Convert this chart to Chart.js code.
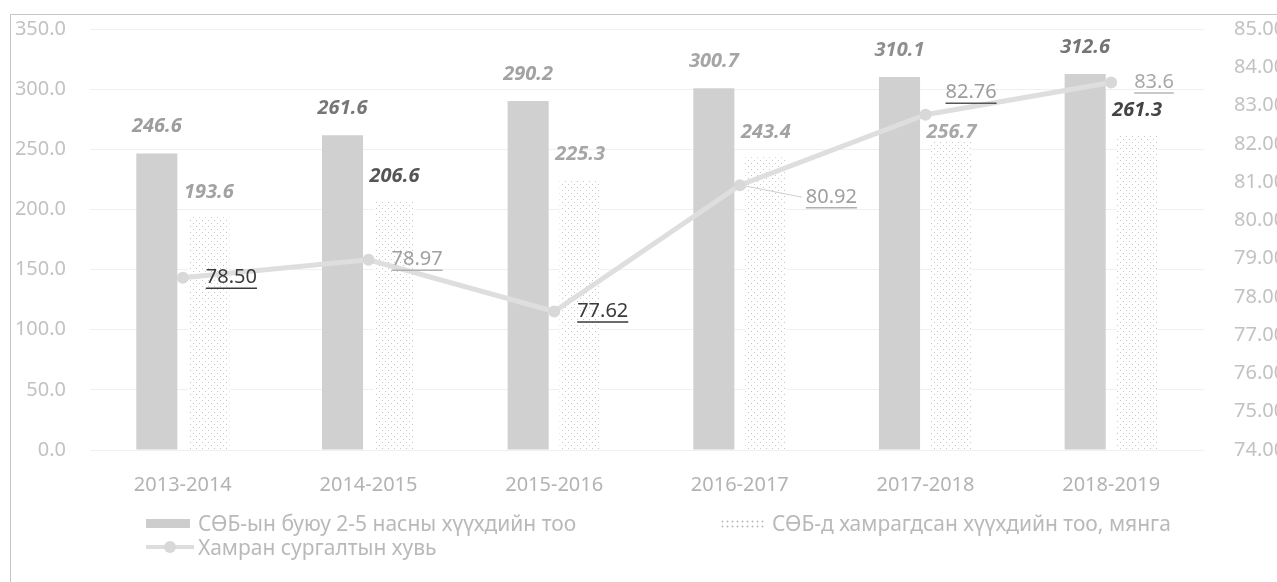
<!DOCTYPE html>
<html>
<head>
<meta charset="utf-8">
<script src="https://cdn.jsdelivr.net/npm/chart.js@4.4.1/dist/chart.umd.min.js"></script>
<style>
html,body{margin:0;padding:0;background:#fff;}
#wrap{position:relative;width:1277px;height:582px;overflow:hidden;background:#fff;}
#c{position:absolute;left:0;top:0;}
#frame{position:absolute;left:10px;top:14px;width:1300px;height:600px;border-top:1px solid #c6c6c6;border-left:1px solid #c6c6c6;pointer-events:none;}
.leg{position:absolute;font-family:"Noto Sans",sans-serif;font-size:21px;line-height:24px;color:#b9b9b9;white-space:nowrap;}
.sw{position:absolute;}
</style>
</head>
<body>
<div id="wrap">
  <canvas id="c" width="1277" height="582"></canvas>
  <div id="frame"></div>
  <div id="legend"></div>
</div>
<script>
// ---- data ----
const categories = ['2013-2014', '2014-2015', '2015-2016', '2016-2017', '2017-2018', '2018-2019'];
const childrenAged2to5 = [246.6, 261.6, 290.2, 300.7, 310.1, 312.6];
const childrenEnrolled = [193.6, 206.6, 225.3, 243.4, 256.7, 261.3];
const enrollmentRate = [78.50, 78.97, 77.62, 80.92, 82.76, 83.6];
const enrollmentRateText = ['78.50', '78.97', '77.62', '80.92', '82.76', '83.6'];
const seriesNames = [
  'СӨБ-ын буюу 2-5 насны хүүхдийн тоо',
  'СӨБ-д хамрагдсан хүүхдийн тоо, мянга',
  'Хамран сургалтын хувь'
];
const leftAxisRange = [0, 350, 50];
const rightAxisRange = [74, 85, 1];

// ---- styles ----
const canvas = document.getElementById('c');
const mainCtx = canvas.getContext('2d');
function dotPattern() {
  const p = document.createElement('canvas');
  p.width = 6; p.height = 6;
  const g = p.getContext('2d');
  g.fillStyle = '#ffffff'; g.fillRect(0, 0, 6, 6);
  g.fillStyle = '#c6c6c6';
  g.fillRect(1, 1, 1, 1); g.fillRect(4, 4, 1, 1);
  return mainCtx.createPattern(p, 'repeat');
}
const dots = dotPattern();

const labelSpec = [
  { dataset: 0, mode: 'above', gap: 27, font: 'italic bold 20px "Noto Sans"',
    text: (v) => v.toFixed(1),
    colors: ['#9c9c9c', '#767676', '#a2a2a2', '#a6a6a6', '#8e8e8e', '#747474'],
    shift: {} },
  { dataset: 1, mode: 'above', gap: 25, font: 'italic bold 20px "Noto Sans"',
    text: (v) => v.toFixed(1),
    colors: ['#a2a2a2', '#555555', '#a6a6a6', '#a2a2a2', '#a8a8a8', '#444444'],
    shift: { 4: [0, 16] } },
  { dataset: 2, mode: 'right', gap: 23, font: '20px "Noto Sans"',
    text: (v, i) => enrollmentRateText[i],
    colors: ['#3a3a3a', '#a0a0a0', '#3a3a3a', '#a0a0a0', '#9c9c9c', '#a8a8a8'],
    underline: ['#3a3a3a', '#b0b0b0', '#3a3a3a', '#b0b0b0', '#555555', '#b8b8b8'],
    shift: { 3: [43, 12], 4: [-3, -22] },
    leader: { 3: true } }
];

const valueLabels = {
  id: 'valueLabels',
  afterDatasetsDraw(chart) {
    const ctx = chart.ctx;
    labelSpec.forEach(s => {
      const meta = chart.getDatasetMeta(s.dataset);
      const vals = chart.data.datasets[s.dataset].data;
      meta.data.forEach((el, i) => {
        const txt = s.text(vals[i], i);
        const sh = s.shift[i] || [0, 0];
        ctx.save();
        ctx.font = s.font;
        ctx.fillStyle = s.colors[i];
        ctx.textBaseline = 'middle';
        let x, y;
        if (s.mode === 'above') {
          ctx.textAlign = 'center';
          x = el.x + sh[0]; y = el.y - s.gap + sh[1];
        } else {
          ctx.textAlign = 'left';
          x = el.x + s.gap + sh[0]; y = el.y + sh[1];
        }
        if (s.leader && s.leader[i]) {
          ctx.strokeStyle = '#cfcfcf'; ctx.lineWidth = 1;
          ctx.beginPath(); ctx.moveTo(el.x + 6, el.y + 1); ctx.lineTo(x - 4, y); ctx.stroke();
        }
        ctx.fillText(txt, x, y);
        if (s.underline) {
          const w = ctx.measureText(txt).width;
          ctx.strokeStyle = s.underline[i]; ctx.lineWidth = 1.5;
          ctx.beginPath(); ctx.moveTo(x, y + 10.5); ctx.lineTo(x + w, y + 10.5); ctx.stroke();
        }
        ctx.restore();
      });
    });
  }
};

const tickFont = { family: '"Noto Sans"', size: 20 };
function fixVertical(w) {
  return (s) => { s.width = w; s.paddingTop = 0; s.paddingBottom = 0; };
}

new Chart(canvas, {
  type: 'bar',
  data: {
    labels: categories,
    datasets: [
      { label: seriesNames[0], data: childrenAged2to5, yAxisID: 'y', order: 2,
        backgroundColor: '#d0d0d0', borderWidth: 0,
        categoryPercentage: 0.56, barPercentage: 0.79 },
      { label: seriesNames[1], data: childrenEnrolled, yAxisID: 'y', order: 2,
        backgroundColor: dots, borderWidth: 0,
        categoryPercentage: 0.56, barPercentage: 0.79 },
      { type: 'line', label: seriesNames[2], data: enrollmentRate, yAxisID: 'y1', order: 0,
        borderColor: '#dedede', borderWidth: 5, tension: 0,
        pointRadius: 6, pointBackgroundColor: '#d8d8d8', pointBorderWidth: 0 }
    ]
  },
  options: {
    responsive: false,
    animation: false,
    devicePixelRatio: 1,
    layout: { padding: { top: 29, left: 0, right: 0, bottom: 0 } },
    plugins: { legend: { display: false }, tooltip: { enabled: false } },
    scales: {
      x: {
        grid: { display: false, drawTicks: false },
        border: { display: false },
        ticks: { color: '#b3b3b3', font: tickFont, padding: 23, maxRotation: 0 },
        afterFit: (s) => { s.height = 132; s.paddingLeft = 0; s.paddingRight = 0; }
      },
      y: {
        position: 'left',
        min: leftAxisRange[0], max: leftAxisRange[1],
        grid: { color: '#f0f0f0', drawTicks: false },
        border: { display: false },
        ticks: { stepSize: leftAxisRange[2], color: '#c2c2c2', font: tickFont, padding: 24,
                 callback: (v) => Number(v).toFixed(1) },
        afterFit: fixVertical(90)
      },
      y1: {
        position: 'right',
        min: rightAxisRange[0], max: rightAxisRange[1],
        grid: { display: false, drawTicks: false },
        border: { display: false },
        ticks: { stepSize: rightAxisRange[2], color: '#c2c2c2', font: tickFont, padding: 30,
                 callback: (v) => Number(v).toFixed(2) },
        afterFit: fixVertical(73)
      }
    }
  },
  plugins: [valueLabels]
});

// ---- legend (HTML text) ----
const legend = document.getElementById('legend');
function legItem(left, top, swatchHTML, text) {
  const d = document.createElement('div');
  d.className = 'leg';
  d.style.left = left + 'px'; d.style.top = top + 'px';
  d.innerHTML = swatchHTML;
  const t = document.createElement('span');
  t.textContent = text;
  t.style.position = 'absolute'; t.style.left = '52px'; t.style.top = '0px';
  d.appendChild(t);
  legend.appendChild(d);
}
legItem(146, 511,
  '<span class="sw" style="left:0;top:8px;width:44px;height:9px;background:#cdcdcd"></span>', seriesNames[0]);
legItem(720, 511,
  '<span class="sw" style="left:0;top:8px;width:44px;height:9px;background-color:#fff;background-image:radial-gradient(#bdbdbd 0.9px, transparent 1.1px);background-size:5px 5px"></span>', seriesNames[1]);
legItem(146, 535,
  '<span class="sw" style="left:0;top:10px;width:48px;height:4px;background:#dddddd"></span>' +
  '<span class="sw" style="left:18px;top:6px;width:12px;height:12px;border-radius:6px;background:#d8d8d8"></span>', seriesNames[2]);
</script>
</body>
</html>
